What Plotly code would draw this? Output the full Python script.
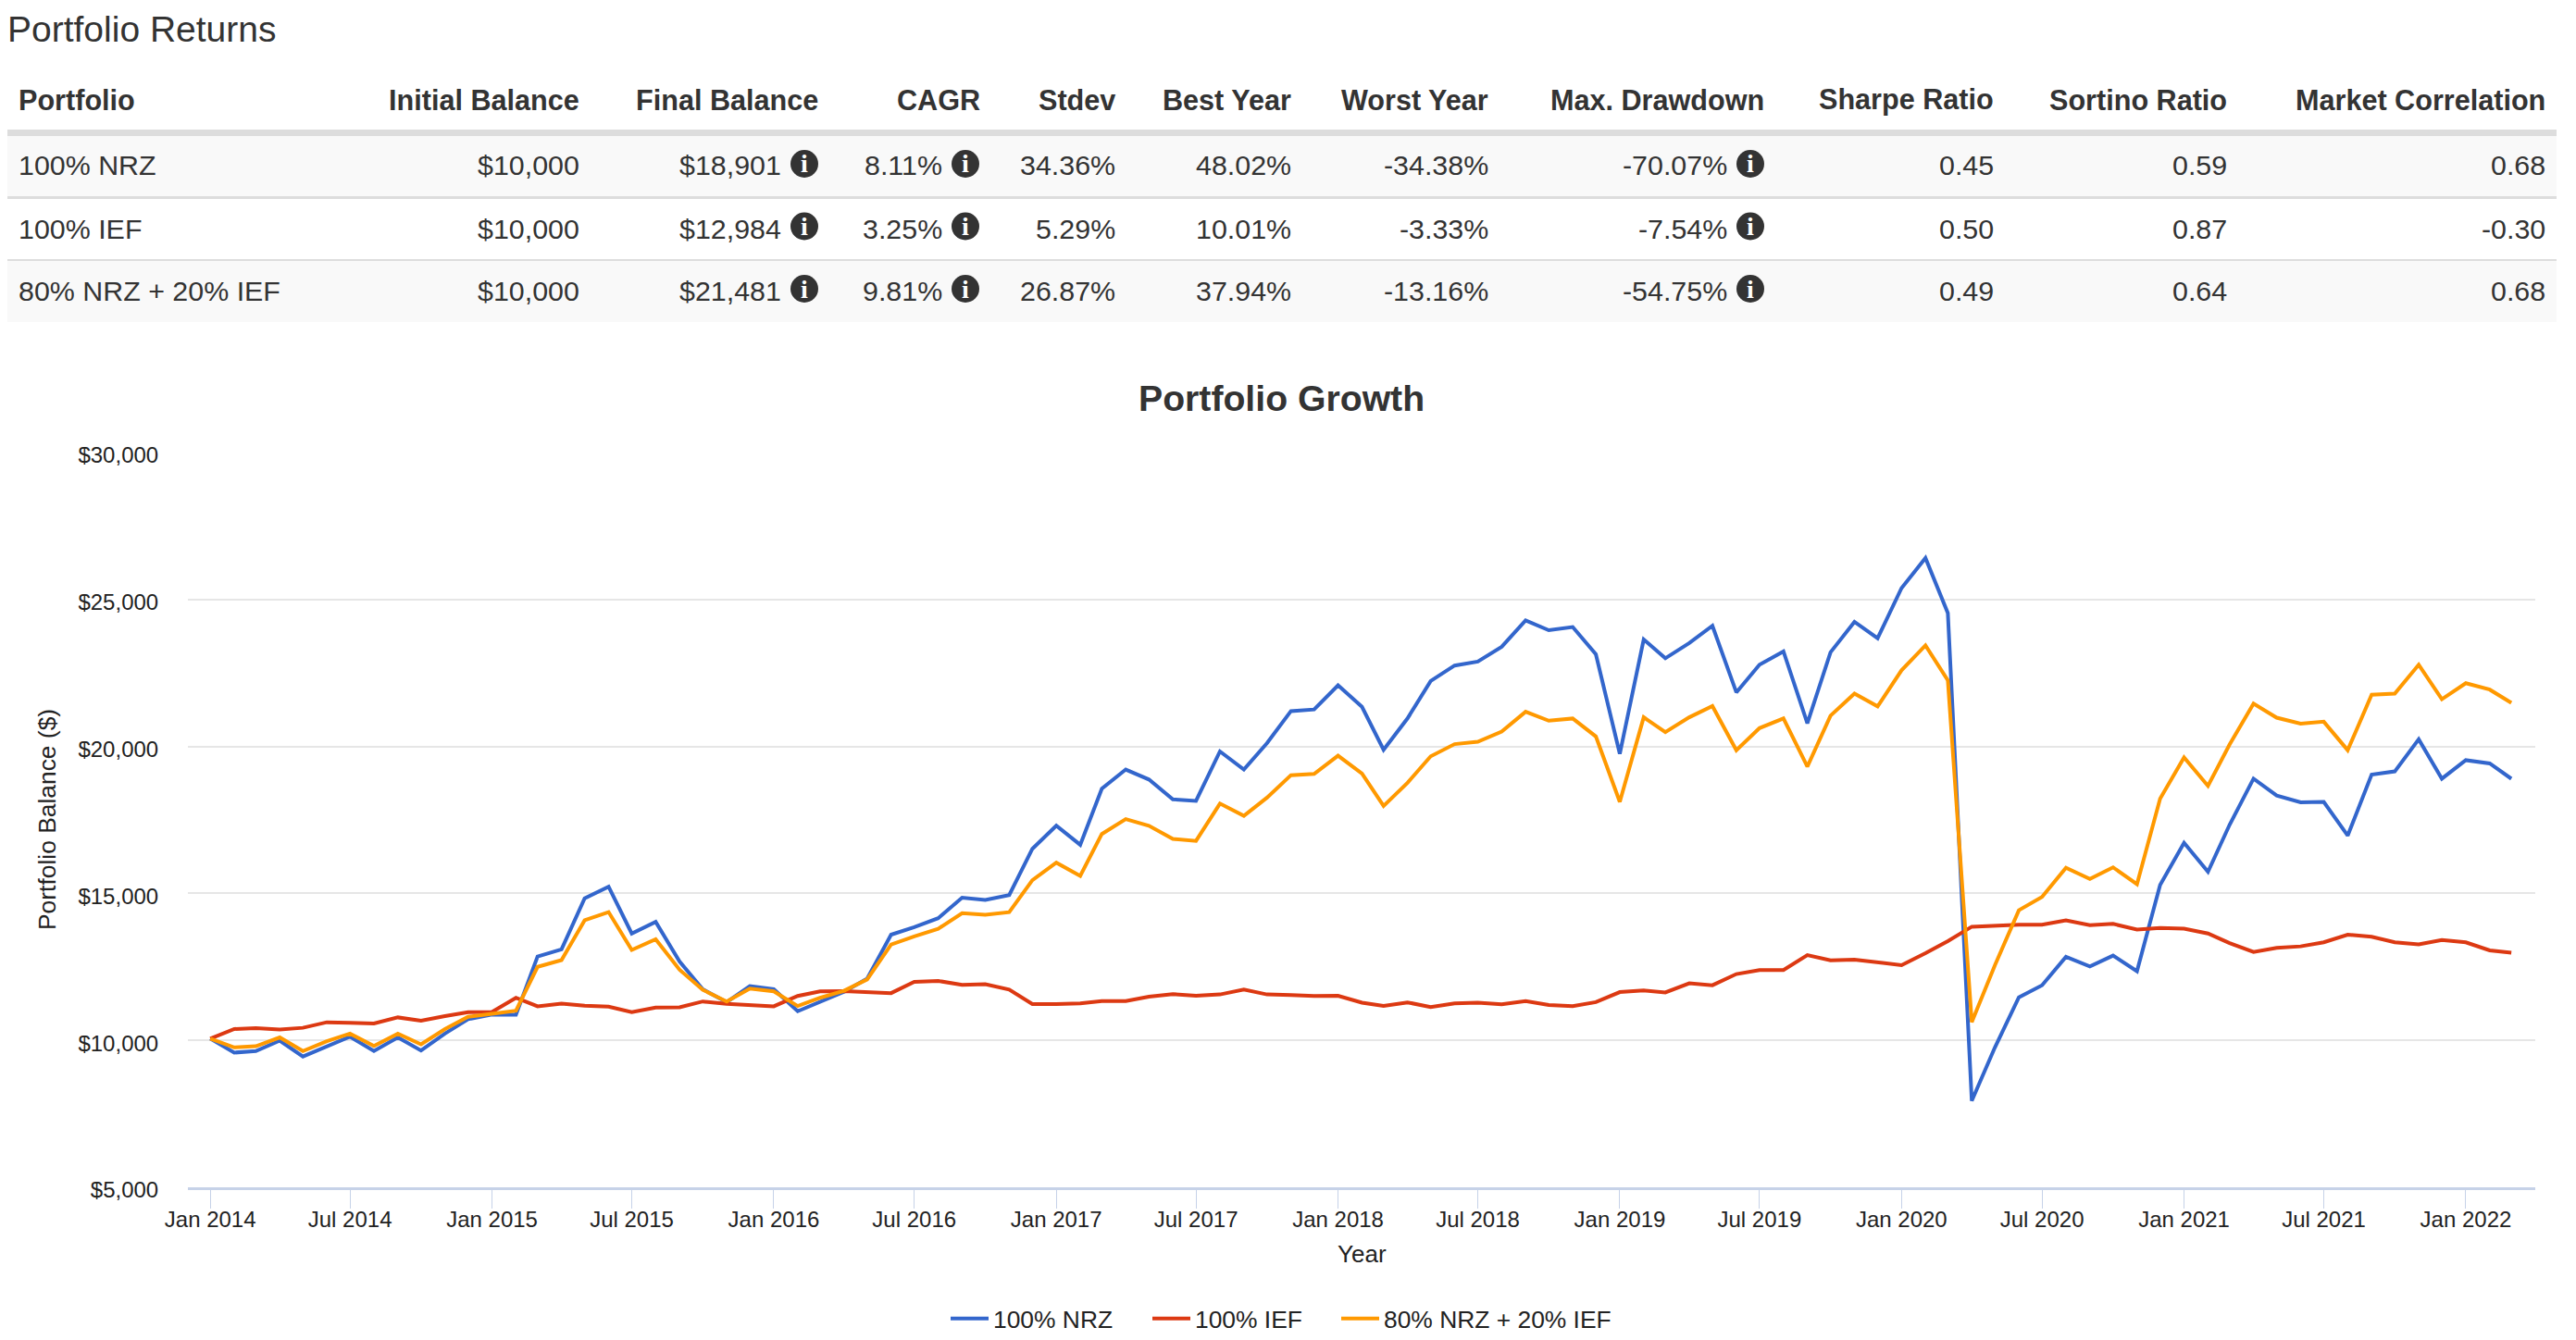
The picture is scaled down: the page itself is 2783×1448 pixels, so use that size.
import plotly.graph_objects as go

W, H = 2783, 1448

# ---------- data ----------
months = ["%d-%02d-01" % (2014 + i // 12, i % 12 + 1) for i in range(99)]

nrz = [10060, 9583, 9635, 9990, 9450, 9810, 10125, 9635, 10100, 9655, 10230, 10720,
       10875, 10875, 12855, 13095, 14835, 15230, 13635, 14030, 12680, 11740, 11300, 11845,
       11740, 10990, 11320, 11655, 12100, 13595, 13854, 14157, 14854, 14775, 14944, 16517,
       17303, 16652, 18562, 19214, 18876, 18202, 18146, 19831, 19214, 20112, 21202, 21258,
       22079, 21348, 19888, 20955, 22225, 22753, 22888, 23393, 24292, 23955, 24064, 23135,
       19750, 23640, 23000, 23518, 24105, 21839, 22780, 23231, 20788, 23204, 24241, 23681,
       25388, 26411, 24541, 7943, 9760, 11465, 11874, 12843, 12516, 12884, 12352, 15287,
       16720, 15737, 17334, 18904, 18331, 18099, 18112, 16966, 19040, 19150, 20242, 18904,
       19532, 19423, 18901]

ief = [10060, 10385, 10417, 10365, 10427, 10615, 10594, 10573, 10781, 10667, 10823, 10958,
       10969, 11448, 11157, 11250, 11177, 11146, 10958, 11115, 11125, 11323, 11240, 11198,
       11157, 11510, 11667, 11677, 11656, 11607, 11989, 12022, 11888, 11910, 11730, 11236,
       11236, 11258, 11337, 11337, 11483, 11573, 11517, 11562, 11730, 11562, 11539, 11506,
       11517, 11281, 11169, 11292, 11135, 11258, 11281, 11225, 11337, 11202, 11165, 11301,
       11642, 11697, 11628, 11942, 11874, 12256, 12393, 12393, 12898, 12720, 12748, 12666,
       12557, 12966, 13376, 13867, 13908, 13935, 13935, 14085, 13922, 13963, 13772, 13826,
       13799, 13635, 13307, 13007, 13144, 13198, 13335, 13594, 13526, 13335, 13266, 13417,
       13335, 13062, 12984]

mix = [10060, 9760, 9800, 10100, 9635, 9970, 10230, 9812, 10230, 9865, 10385, 10800,
       10906, 11010, 12500, 12730, 14085, 14365, 13075, 13440, 12400, 11720, 11323, 11760,
       11667, 11167, 11448, 11688, 12073, 13258, 13539, 13798, 14326, 14270, 14360, 15449,
       16045, 15596, 17022, 17528, 17303, 16854, 16787, 18056, 17640, 18258, 19022, 19067,
       19685, 19079, 17978, 18764, 19663, 20079, 20157, 20506, 21180, 20876, 20950, 20340,
       18112, 20992, 20487, 20992, 21375, 19873, 20624, 20951, 19313, 21047, 21798, 21361,
       22589, 23436, 22248, 10618, 12557, 14427, 14877, 15874, 15491, 15887, 15314, 18221,
       19627, 18658, 20064, 21456, 20979, 20774, 20842, 19873, 21757, 21798, 22780, 21607,
       22153, 21934, 21481]

series_names = ["100% NRZ", "100% IEF", "80% NRZ + 20% IEF"]
series_colors = ["#3366CC", "#DC3912", "#FF9900"]

tick_dates = ["%d-%02d-01" % (y, m) for y in range(2014, 2023) for m in (1, 7)][:17]
tick_labels = ["Jan 2014", "Jul 2014", "Jan 2015", "Jul 2015", "Jan 2016", "Jul 2016",
               "Jan 2017", "Jul 2017", "Jan 2018", "Jul 2018", "Jan 2019", "Jul 2019",
               "Jan 2020", "Jul 2020", "Jan 2021", "Jul 2021", "Jan 2022"]
y_ticks = [5000, 10000, 15000, 20000, 25000, 30000]
y_labels = ["$5,000", "$10,000", "$15,000", "$20,000", "$25,000", "$30,000"]

table_headers = ["Portfolio", "Initial Balance", "Final Balance", "CAGR", "Stdev", "Best Year",
                 "Worst Year", "Max. Drawdown", "Sharpe Ratio", "Sortino Ratio", "Market Correlation"]
initial_balance = ["$10,000", "$10,000", "$10,000"]
final_balance = ["$18,901", "$12,984", "$21,481"]
cagr = ["8.11%", "3.25%", "9.81%"]
stdev = ["34.36%", "5.29%", "26.87%"]
best_year = ["48.02%", "10.01%", "37.94%"]
worst_year = ["-34.38%", "-3.33%", "-13.16%"]
max_drawdown = ["-70.07%", "-7.54%", "-54.75%"]
sharpe = ["0.45", "0.50", "0.49"]
sortino = ["0.59", "0.87", "0.64"]
market_corr = ["0.68", "-0.30", "0.68"]

# ---------- layout helpers (page pixels -> paper fractions) ----------
FONT = "Liberation Sans"
TXT = "#333333"
BODY = 30.4
HEAD = 30.6


def fx(px):
    return px / W


def fy(py):
    return 1 - py / H


annotations, shapes = [], []


def text(s, x, y, size, anchor="left", bold=False, color=TXT, angle=0):
    annotations.append(dict(
        text="<b>%s</b>" % s if bold else s, x=fx(x), y=fy(y), xref="paper", yref="paper",
        xanchor=anchor, yanchor="middle", showarrow=False, textangle=angle, borderpad=0,
        font=dict(family=FONT, size=size, color=color)))


def rect(x0, y0, x1, y1, color):
    shapes.append(dict(type="rect", xref="paper", yref="paper", x0=fx(x0), x1=fx(x1),
                       y0=fy(y0), y1=fy(y1), fillcolor=color, line=dict(width=0), layer="below"))


def info_icon(cx, cy):
    r = 15
    shapes.append(dict(type="circle", xref="paper", yref="paper", x0=fx(cx - r), x1=fx(cx + r),
                       y0=fy(cy - r), y1=fy(cy + r), fillcolor="#333333", line=dict(width=0)))
    annotations.append(dict(text="<b>i</b>", x=fx(cx), y=fy(cy), xref="paper", yref="paper",
                            xanchor="center", yanchor="middle", showarrow=False, borderpad=0,
                            font=dict(family="Liberation Serif", size=28, color="#ffffff")))


# ---------- table ----------
L, R = 8, 2762
rect(L, 140, R, 147, "#dddddd")
rect(L, 147, R, 212, "#f9f9f9")
rect(L, 212, R, 215, "#dddddd")
rect(L, 280, R, 282, "#dddddd")
rect(L, 282, R, 348, "#f9f9f9")

text("Portfolio Returns", 7, 31, 39)

col_right = [None, 627, 885, 1060, 1206, 1396, 1609, 1907, 2155, 2407, 2751]
row_y = [178.5, 247, 314]
icon_y = [177, 244.5, 312]

text(table_headers[0], 19, 108, HEAD, bold=True)
for h, xr in zip(table_headers[1:], col_right[1:]):
    text(h, xr, 108, HEAD, anchor="right", bold=True)

for i, y in enumerate(row_y):
    text(series_names[i], 19, y, BODY)
    text(initial_balance[i], col_right[1], y, BODY, anchor="right")
    text(final_balance[i], 845, y, BODY, anchor="right")
    info_icon(869, icon_y[i])
    text(cagr[i], 1019, y, BODY, anchor="right")
    info_icon(1043, icon_y[i])
    text(stdev[i], col_right[4], y, BODY, anchor="right")
    text(best_year[i], col_right[5], y, BODY, anchor="right")
    text(worst_year[i], col_right[6], y, BODY, anchor="right")
    text(max_drawdown[i], 1867, y, BODY, anchor="right")
    info_icon(1891, icon_y[i])
    text(sharpe[i], col_right[8], y, BODY, anchor="right")
    text(sortino[i], col_right[9], y, BODY, anchor="right")
    text(market_corr[i], col_right[10], y, BODY, anchor="right")

# ---------- chart titles ----------
text("Portfolio Growth", 1384, 430, 39.2, anchor="center", bold=True)
text("Portfolio Balance ($)", 51, 886, 26.4, anchor="center", color="#222222", angle=-90)
text("Year", 1471, 1355, 26, anchor="center", color="#222222")

# ---------- traces ----------
fig = go.Figure()
legend_ids = ["legend", "legend2", "legend3"]
for vals, name, color, lg in zip((nrz, ief, mix), series_names, series_colors, legend_ids):
    fig.add_trace(go.Scatter(x=months, y=vals, mode="lines", name=name, legend=lg,
                             line=dict(color=color, width=4)))


def legend_at(px):
    return dict(x=fx(px), y=fy(1425), xanchor="left", yanchor="middle", xref="paper", yref="paper",
                orientation="h", itemwidth=41, bgcolor="rgba(0,0,0,0)", borderwidth=0,
                font=dict(family=FONT, size=26.4, color="#222222"), itemclick=False)


fig.update_layout(
    width=W, height=H, autosize=False, margin=dict(l=0, r=0, t=0, b=0, autoexpand=False),
    paper_bgcolor="#ffffff", plot_bgcolor="#ffffff",
    font=dict(family=FONT, size=24, color="#222222"),
    showlegend=True,
    legend=legend_at(1022), legend2=legend_at(1240), legend3=legend_at(1444),
    annotations=annotations, shapes=shapes,
    xaxis=dict(type="date", domain=[fx(203), fx(2739)], range=["2013-12-03", "2022-04-01"],
               automargin=False, ticklabelstandoff=-9,
               tickmode="array", tickvals=tick_dates, ticktext=tick_labels,
               ticks="outside", ticklen=20, tickwidth=1, tickcolor="#c6d2e8",
               showgrid=False, zeroline=False, showline=True, linecolor="#c6d2e8", linewidth=3,
               tickfont=dict(family=FONT, size=24, color="#222222")),
    yaxis=dict(domain=[fy(1283), fy(489)], range=[5000, 30000], automargin=False,
               ticklabelshift=3,
               tickmode="array", tickvals=y_ticks, ticktext=y_labels,
               ticks="outside", ticklen=26, tickcolor="rgba(0,0,0,0)",
               showgrid=True, gridcolor="#e6e6e6", gridwidth=2, zeroline=False, showline=False,
               tickfont=dict(family=FONT, size=24, color="#222222")),
)

fig.write_html("out.html", config={"displayModeBar": False},
               post_script="document.body.style.margin='0';")
